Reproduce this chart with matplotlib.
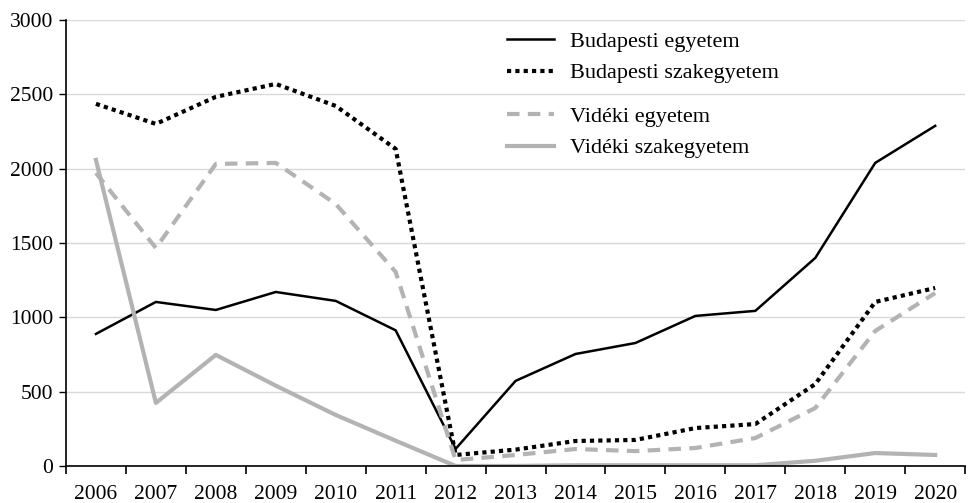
import matplotlib
matplotlib.use('Agg')
import matplotlib.pyplot as plt
import numpy as np

plt.rcParams['font.family'] = ['Liberation Serif', 'DejaVu Serif']

years = ['2006', '2007', '2008', '2009', '2010', '2011', '2012', '2013',
         '2014', '2015', '2016', '2017', '2018', '2019', '2020']

bp_egyetem = [888, 1103, 1049, 1170, 1110, 912, 115, 572,
              753, 827, 1009, 1043, 1399, 2038, 2287]
bp_szak = [2435, 2300, 2482, 2569, 2421, 2132, 74, 110,
           168, 175, 255, 282, 551, 1103, 1197]
vid_egyetem = [1970, 1466, 2031, 2038, 1762, 1305, 40, 74,
               114, 100, 121, 188, 390, 908, 1163]
vid_szak = [2058, 424, 747, 540, 343, 170, 0, 0,
            5, 5, 5, 5, 35, 87, 74]

x = np.arange(len(years))
gray = '#b3b3b3'

fig = plt.figure(figsize=(9.7, 5.03), dpi=100)
ax = fig.add_axes([0.068, 0.0736, 0.927, 0.887])

l1, = ax.plot(x, bp_egyetem, color='black', lw=1.8, label='Budapesti egyetem')
l2, = ax.plot(x, bp_szak, color='black', lw=3, linestyle=(0, (1, 1)),
              label='Budapesti szakegyetem')
l3, = ax.plot(x, vid_egyetem, color=gray, lw=3, linestyle=(0, (3, 2)),
              label='Vidéki egyetem')
l4, = ax.plot(x, vid_szak, color=gray, lw=3, label='Vidéki szakegyetem')

ax.set_xlim(-0.5, len(years) - 0.5)
ax.set_ylim(0, 3000)
ax.set_yticks(np.arange(0, 3001, 500))
ax.yaxis.grid(True, color='#d9d9d9', lw=1)
ax.set_axisbelow(True)

# category axis: tick marks between labels
ax.set_xticks(np.arange(-0.5, len(years), 1))
ax.set_xticklabels([])
ax.set_xticks(x, minor=True)
ax.set_xticklabels(years, minor=True)
ax.tick_params(axis='x', which='minor', length=0, pad=14, labelsize=15.5)
ax.tick_params(axis='x', which='major', length=6, width=1.2, direction='out')
ax.tick_params(axis='y', length=5, width=1, labelsize=15.5, pad=4)

for s in ['top', 'right']:
    ax.spines[s].set_visible(False)
for s in ['left', 'bottom']:
    ax.spines[s].set_linewidth(1.2)
    ax.spines[s].set_color('black')

leg_kw = dict(frameon=False, fontsize=16, handlelength=2.1, handletextpad=0.75,
              labelspacing=0.5, borderpad=0, borderaxespad=0)
leg1 = ax.legend(handles=[l1, l2], loc='center left',
                 bbox_to_anchor=(0.4905, 0.916), **leg_kw)
ax.add_artist(leg1)
ax.legend(handles=[l3, l4], loc='center left',
          bbox_to_anchor=(0.4905, 0.748), **leg_kw)

plt.savefig('out.png', dpi=100)
